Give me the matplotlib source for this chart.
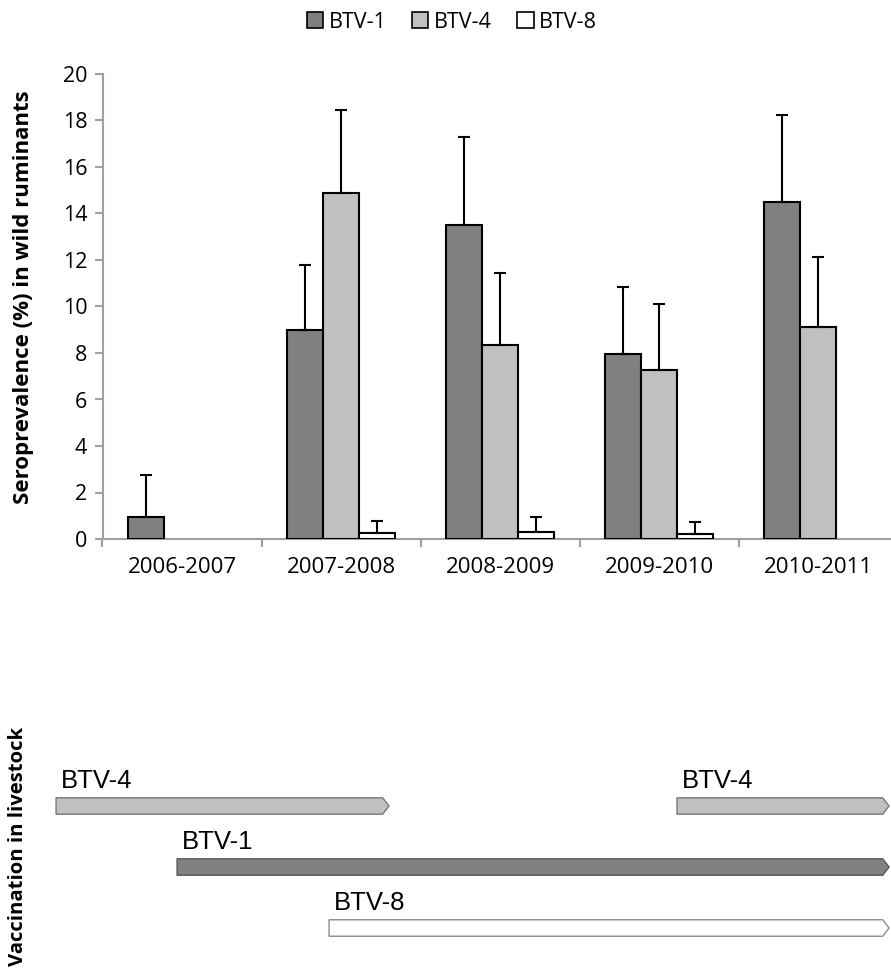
import matplotlib
matplotlib.use("Agg")
import matplotlib.pyplot as plt
import numpy as np
from matplotlib.patches import Polygon, Patch

# ---------------- data ----------------
seasons = ["2006-2007", "2007-2008", "2008-2009", "2009-2010", "2010-2011"]
serotypes = ["BTV-1", "BTV-4", "BTV-8"]
btv1 = [0.95, 9.0, 13.5, 7.95, 14.5]
btv4 = [0.0, 14.9, 8.35, 7.25, 9.1]
btv8 = [0.0, 0.26, 0.32, 0.21, 0.0]
btv1_upper = [2.75, 11.8, 17.3, 10.85, 18.25]
btv4_upper = [0.0, 18.45, 11.45, 10.1, 12.15]
btv8_upper = [0.0, 0.77, 0.96, 0.72, 0.0]
y_ticks = [0, 2, 4, 6, 8, 10, 12, 14, 16, 18, 20]

# vaccination campaigns in livestock (timeline on same season axis)
vacc_labels = ["BTV-4", "BTV-4", "BTV-1", "BTV-8"]
vacc_start = [-0.792, 3.113, -0.031, 0.925]
vacc_end = [1.302, 4.447, 4.447, 4.447]
vacc_row = [0, 0, 1, 2]

colors = {"BTV-1": "#808080", "BTV-4": "#C0C0C0", "BTV-8": "#FFFFFF"}
vacc_edge = {"BTV-1": "#5a5a5a", "BTV-4": "#7a7a7a", "BTV-8": "#8a8a8a"}

plt.rcParams['font.family'] = ['Open Sans', 'DejaVu Sans']

W, H = 891, 975
fig = plt.figure(figsize=(W / 100, H / 100), dpi=100)

def fx(px):
    return px / W

def fy(py):
    return (H - py) / H

# ---------------- top bar chart ----------------
left, right, top, bottom = 102.5, 897.5, 74, 539
ax = fig.add_axes([fx(left), fy(bottom), fx(right - left), (bottom - top) / H])

x = np.arange(len(seasons))
bw = 0.226
series = [(btv1, btv1_upper), (btv4, btv4_upper), (btv8, btv8_upper)]
for k, (name, (vals, upp)) in enumerate(zip(serotypes, series)):
    vals = np.array(vals)
    upp = np.array(upp)
    pos = x + (k - 1) * bw
    edges = ['black' if v > 0 else '#d8d8d8' for v in vals]
    lws = [1.5 if v > 0 else 1.0 for v in vals]
    ax.bar(pos, vals, width=bw, color=colors[name], edgecolor=edges,
           linewidth=lws, zorder=3)
    mask = vals > 0
    err = np.where(mask, upp - vals, 0)
    ax.errorbar(pos[mask], vals[mask], yerr=[np.zeros(mask.sum()), err[mask]],
                fmt='none', ecolor='black', elinewidth=1.5, capsize=4.5,
                capthick=1.5, zorder=4)

ax.set_xlim(-0.5, len(seasons) - 0.5)
ax.set_ylim(0, 20)
ax.set_yticks(y_ticks)
ax.set_yticklabels([str(t) for t in y_ticks], fontsize=15.5)
ax.set_xticks(np.arange(len(seasons) + 1) - 0.5)
ax.set_xticklabels([])
ax.set_xticks(x, minor=True)
ax.set_xticklabels(seasons, minor=True, fontsize=16)
ax.tick_params(axis='x', which='minor', length=0, pad=13)
ax.tick_params(axis='x', which='major', length=6, width=1.5, color='#a0a0a0', direction='out')
ax.tick_params(axis='y', length=6, width=1.5, color='#a0a0a0', direction='out', pad=5)
for s in ['top', 'right']:
    ax.spines[s].set_visible(False)
for s in ['left', 'bottom']:
    ax.spines[s].set_color('#a0a0a0')
    ax.spines[s].set_linewidth(1.5)

fig.text(fx(24), fy(297), "Seroprevalence (%) in wild ruminants", rotation=90,
         ha='center', va='center', fontsize=16, fontweight='bold')

handles = [Patch(facecolor=colors[n], edgecolor='black', linewidth=1.2, label=n)
           for n in serotypes]
fig.legend(handles=handles, loc='center', bbox_to_anchor=(fx(452), fy(22)), ncol=3,
           frameon=False, fontsize=15.5, handlelength=0.75, handleheight=0.75,
           handletextpad=0.25, columnspacing=1.2, borderaxespad=0)

# ---------------- vaccination timeline ----------------
unit = 61.0
y_top_px = 806 - 0.9 * unit
y_bot_px = 806 + 2.7 * unit
ax2 = fig.add_axes([fx(left), fy(y_bot_px), fx(right - left), (y_bot_px - y_top_px) / H])
ax2.set_xlim(-0.5, len(seasons) - 0.5)
ax2.set_ylim(2.7, -0.9)
ax2.axis('off')

half_h = 0.135
tip = 0.04
for lab, s, e, r in zip(vacc_labels, vacc_start, vacc_end, vacc_row):
    pts = [(s, r - half_h), (e - tip, r - half_h), (e, r), (e - tip, r + half_h), (s, r + half_h)]
    poly = Polygon(pts, closed=True, facecolor=colors[lab], edgecolor=vacc_edge[lab],
                   linewidth=1.0, clip_on=False)
    ax2.add_patch(poly)
    ax2.text(s + 0.03, r - half_h - 0.07, lab, ha='left', va='bottom',
             fontsize=18.5, family='Liberation Sans', clip_on=False)

fig.text(fx(18), fy(727), "Vaccination in livestock", rotation=90,
         ha='center', va='top', fontsize=14.6, fontweight='bold')

fig.savefig("out.png", dpi=100)
